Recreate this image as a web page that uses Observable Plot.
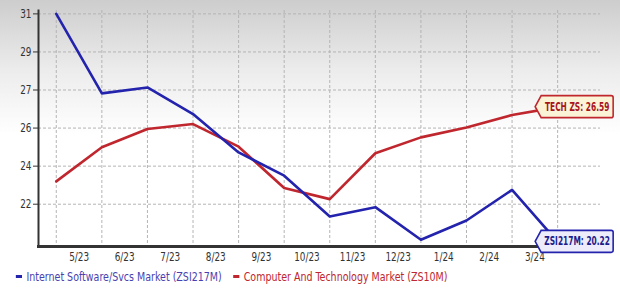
<!DOCTYPE html>
<html><head><meta charset="utf-8">
<script src="https://cdn.jsdelivr.net/npm/d3@7"></script>
<script src="https://cdn.jsdelivr.net/npm/@observablehq/plot@0.6"></script>
<style>
html,body{margin:0;padding:0;}
body{width:620px;height:294px;overflow:hidden;background:linear-gradient(#cdcdcd 0px,#ececec 70px,#ffffff 135px);font-family:"DejaVu Sans Condensed","DejaVu Sans",sans-serif;}
#legend{height:28px;line-height:22px;font-size:12px;padding-left:18px;white-space:nowrap;transform:scaleX(0.88);transform-origin:0 50%;}
#legend span.item{margin-right:13px;}
#legend span.sw{display:inline-block;width:7px;height:3px;vertical-align:middle;margin-right:5px;position:relative;top:-1px;}
</style>
</head><body>
<div id="chart"></div>
<div id="legend"></div>
<script>
const monthLabels = ["5/23","6/23","7/23","8/23","9/23","10/23","11/23","12/23","1/24","2/24","3/24"];
const internet = [31.0,27.24,27.52,26.26,24.45,23.35,21.42,21.86,20.32,21.23,22.68,20.22];
const tech = [23.08,24.69,25.56,25.79,24.72,22.77,22.24,24.41,25.16,25.63,26.22,26.59];
const yTicks = [22,23.8,25.6,27.4,29.2,31];
const seriesNames = ["Internet Software/Svcs Market (ZSI217M)","Computer And Technology Market (ZS10M)"];
const tagTexts = ["ZSI217M: 20.22","TECH ZS: 26.59"];

const blue = "#2323ad", red = "#c0262d";
const idx = d3.range(internet.length);
const rows = idx.flatMap(i => [
  {i, v: internet[i], s: "internet"},
  {i, v: tech[i], s: "tech"}
]);
const font = '"DejaVu Sans Condensed","DejaVu Sans",sans-serif';

function endTag(value, text, stroke, fill, color, sx) {
  return (index, scales) => {
    const last = idx[idx.length - 1];
    const xt = scales.x(last) - 22, yt = scales.y(value);
    const w = 78, h = 22, p = 6;
    const g = d3.create("svg:g");
    g.append("path")
      .attr("d", `M${xt},${yt} L${xt+p},${yt-h/2} H${xt+w-2} Q${xt+w},${yt-h/2} ${xt+w},${yt-h/2+2} V${yt+h/2-2} Q${xt+w},${yt+h/2} ${xt+w-2},${yt+h/2} H${xt+p} Z`)
      .attr("fill", fill).attr("stroke", stroke).attr("stroke-width", 1.6);
    g.append("g")
      .attr("transform", `translate(${xt + p + (w - p) / 2},${yt}) scale(${sx},1)`)
      .append("text")
      .attr("dy", "0.36em")
      .attr("text-anchor", "middle").attr("fill", color)
      .attr("font-family", font).attr("font-weight", "bold").attr("font-size", 11.5)
      .text(text);
    return g.node();
  };
}

const chart = Plot.plot({
  width: 620, height: 266,
  marginLeft: 38, marginRight: 20, marginTop: 10, marginBottom: 20,
  style: {background: "transparent", fontFamily: font, fontSize: "12px", color: "#333", overflow: "visible"},
  x: {domain: [-0.39, 11.94], axis: null},
  y: {domain: [20, 31.16], axis: null},
  marks: [
    Plot.gridY(yTicks, {stroke: "#b4b4b4", strokeOpacity: 1, strokeDasharray: "3,2"}),
    Plot.gridX(idx, {stroke: "#b4b4b4", strokeOpacity: 1, strokeDasharray: "3,2"}),
    Plot.axisY(yTicks, {label: null, tickFormat: d => Math.round(d), tickSize: 5, tickPadding: 2, stroke: "#333", fill: "#333", fontSize: 12}),
    Plot.axisX(d3.range(monthLabels.length).map(i => i + 0.5), {label: null, tickFormat: d => monthLabels[Math.floor(d)], tickSize: 0, tickPadding: 6, fill: "#333", fontSize: 12}),
    Plot.frame({anchor: "left", stroke: "#333", strokeWidth: 2}),
    Plot.frame({anchor: "bottom", stroke: "#333", strokeWidth: 3}),
    Plot.line(rows.filter(d => d.s === "tech"), {x: "i", y: "v", stroke: red, strokeWidth: 2.6}),
    Plot.line(rows.filter(d => d.s === "internet"), {x: "i", y: "v", stroke: blue, strokeWidth: 2.6}),
    endTag(tech[tech.length - 1], tagTexts[1], red, "#fbf3d6", "#a8141d", 0.72),
    endTag(internet[internet.length - 1], tagTexts[0], blue, "#ececfa", "#1c1c8a", 0.72)
  ]
});
document.getElementById("chart").appendChild(chart);

// condense axis tick labels to match the narrow font of the reference
d3.select(chart).selectAll("g[aria-label='x-axis tick label'] text, g[aria-label='y-axis tick label'] text").each(function() {
  const len = this.getComputedTextLength();
  if (len > 0) {
    this.setAttribute("textLength", (len * 0.82).toFixed(1));
    this.setAttribute("lengthAdjust", "spacingAndGlyphs");
  }
});

const legend = d3.select("#legend");
[[seriesNames[0], blue, "#4a3fb0"], [seriesNames[1], red, "#c0262d"]].forEach(([name, c, tc]) => {
  const it = legend.append("span").attr("class", "item").style("color", tc);
  it.append("span").attr("class", "sw").style("background", c);
  it.append("span").text(name);
});
</script>
</body></html>
